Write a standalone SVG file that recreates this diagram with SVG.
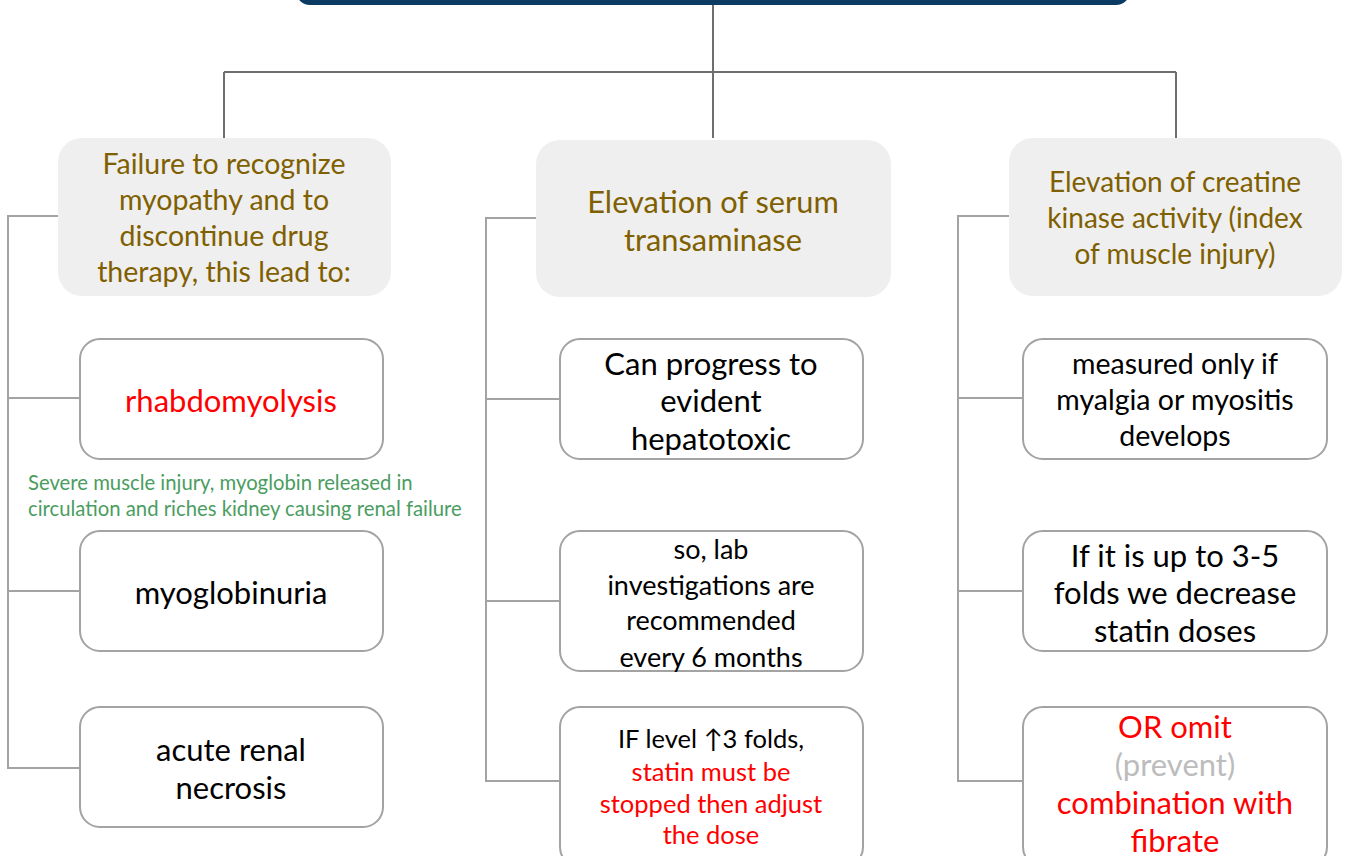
<svg xmlns="http://www.w3.org/2000/svg" width="1350" height="856" viewBox="0 0 1350 856">
<style>
text{font-family:Lato,"Noto Sans","Liberation Sans",sans-serif;text-anchor:middle;dominant-baseline:central}
.hdr{fill:#efefef}
.hdr-t{fill:#7f6000;font-size:28.5px}
.box{fill:#fff;stroke:#a3a3a3;stroke-width:2}
.k{fill:#000}
.r{fill:#ff0000}
.g{fill:#bcbcbc}
.top{stroke:#6e6e6e;stroke-width:2;fill:none}
.br{stroke:#a3a3a3;stroke-width:2;fill:none}
.note{fill:#4a9d5f;font-size:20.3px;text-anchor:start}
</style>
<g id="root"><rect x="296" y="-40" width="834" height="45" rx="14" fill="#0b3a63"/></g>
<g id="connectors">
<path class="top" d="M713 5V138M224 72H1176M224 72V138M1176 72V138"/>
<path class="br" d="M58 216H8V768H80M8 398H80M8 591H80"/>
<path class="br" d="M536 218H486V781H560M486 399H560M486 601H560"/>
<path class="br" d="M1009 216H958V781H1023M958 398H1023M958 591H1023"/>
</g>
<g id="h1"><rect class="hdr" x="58" y="138" width="333" height="158" rx="24"/>
<text class="hdr-t" x="224" y="163">Failure to recognize</text>
<text class="hdr-t" x="224" y="199">myopathy and to</text>
<text class="hdr-t" x="224" y="235">discontinue drug</text>
<text class="hdr-t" x="224" y="271">therapy, this lead to:</text></g>
<g id="h2"><rect class="hdr" x="536" y="140" width="355" height="157" rx="24"/>
<text class="hdr-t" x="713" y="201" style="font-size:30.8px">Elevation of serum</text>
<text class="hdr-t" x="713" y="239" style="font-size:30.8px">transaminase</text></g>
<g id="h3"><rect class="hdr" x="1009" y="138" width="333" height="158" rx="24"/>
<text class="hdr-t" x="1175" y="181" style="font-size:28px">Elevation of creatine</text>
<text class="hdr-t" x="1175" y="217" style="font-size:28px">kinase activity (index</text>
<text class="hdr-t" x="1175" y="253" style="font-size:28px">of muscle injury)</text></g>
<g id="l1"><rect class="box" x="80" y="339" width="303" height="120" rx="20"/>
<text class="r" x="231" y="400" style="font-size:31px">rhabdomyolysis</text></g>
<g id="note"><text class="note" x="28" y="482">Severe muscle injury, myoglobin released in</text>
<text class="note" x="28" y="508">circulation and riches kidney causing renal failure</text></g>
<g id="l2"><rect class="box" x="80" y="531" width="303" height="120" rx="20"/>
<text class="k" x="231" y="592" style="font-size:31px">myoglobinuria</text></g>
<g id="l3"><rect class="box" x="80" y="707" width="303" height="120" rx="20"/>
<text class="k" x="231" y="749" style="font-size:31px">acute renal</text>
<text class="k" x="231" y="787" style="font-size:31px">necrosis</text></g>
<g id="m1"><rect class="box" x="560" y="339" width="303" height="120" rx="20"/>
<text class="k" x="711" y="363" style="font-size:31px">Can progress to</text>
<text class="k" x="711" y="400" style="font-size:31px">evident</text>
<text class="k" x="711" y="438" style="font-size:31px">hepatotoxic</text></g>
<g id="m2"><rect class="box" x="560" y="531" width="303" height="140" rx="20"/>
<text class="k" x="711" y="548" style="font-size:27px">so, lab</text>
<text class="k" x="711" y="584" style="font-size:27px">investigations are</text>
<text class="k" x="711" y="619" style="font-size:27px">recommended</text>
<text class="k" x="711" y="656" style="font-size:27px">every 6 months</text></g>
<g id="m3"><rect class="box" x="560" y="707" width="303" height="160" rx="20"/>
<text class="k" x="711" y="738" style="font-size:25.5px">IF level ↑3 folds,</text>
<text class="r" x="711" y="771" style="font-size:25.5px">statin must be</text>
<text class="r" x="711" y="803" style="font-size:25.5px">stopped then adjust</text>
<text class="r" x="711" y="834" style="font-size:25.5px">the dose</text></g>
<g id="r1"><rect class="box" x="1023" y="339" width="304" height="120" rx="20"/>
<text class="k" x="1175" y="363" style="font-size:28.5px">measured only if</text>
<text class="k" x="1175" y="399" style="font-size:28.5px">myalgia or myositis</text>
<text class="k" x="1175" y="435" style="font-size:28.5px">develops</text></g>
<g id="r2"><rect class="box" x="1023" y="531" width="304" height="120" rx="20"/>
<text class="k" x="1175" y="555" style="font-size:31px">If it is up to 3-5</text>
<text class="k" x="1175" y="592" style="font-size:31px">folds we decrease</text>
<text class="k" x="1175" y="630" style="font-size:31px">statin doses</text></g>
<g id="r3"><rect class="box" x="1023" y="707" width="304" height="160" rx="20"/>
<text class="r" x="1175" y="726" style="font-size:31px">OR omit</text>
<text class="g" x="1175" y="764" style="font-size:31px">(prevent)</text>
<text class="r" x="1175" y="802" style="font-size:31px">combination with</text>
<text class="r" x="1175" y="840" style="font-size:31px">fibrate</text></g>
</svg>
